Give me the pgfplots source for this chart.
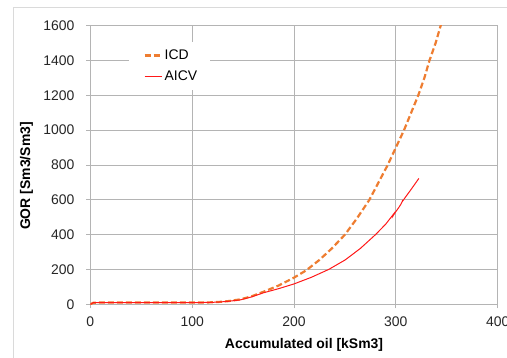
\documentclass[border=0pt]{standalone}
\usepackage{fontspec}
\setmainfont{Liberation Sans}
\usepackage{pgfplots}
\pgfplotsset{compat=1.18}
\definecolor{icd}{RGB}{238,125,49}
\definecolor{aicv}{RGB}{255,25,25}
\definecolor{gridc}{RGB}{180,180,180}
\definecolor{framec}{RGB}{218,218,218}
\begin{document}
\fontsize{14}{16}\selectfont
\begin{tikzpicture}
\path[use as bounding box] (0bp,0bp) rectangle (507bp,-358bp);
\draw[framec, line width=1bp] (13bp,-7bp) rectangle (540bp,-390bp);
\begin{axis}[
  at={(90.3bp,-304.3bp)}, anchor=south west,
  scale only axis, width=407.4bp, height=278.6bp,
  xmin=0, xmax=400, ymin=0, ymax=1600,
  xtick={0,100,...,400}, ytick={0,200,...,1600},
  grid=major, grid style={gridc, line width=1bp},
  axis line style={gridc, line width=1bp},
  tick style={gridc, line width=1bp},
  tick align=outside, major tick length=4bp,
  xtick pos=bottom, ytick pos=left,
  scaled ticks=false,
  /pgf/number format/assume math mode=true,
  /pgf/number format/set thousands separator={},
  ticklabel style={font=\fontsize{14}{16}\selectfont, text=black!85},
  xticklabel style={yshift=-4bp},
  yticklabel style={xshift=-7bp},
  xlabel={Accumulated oil [kSm3]},
  ylabel={GOR [Sm3/Sm3]},
  label style={font=\fontsize{14}{16}\selectfont\bfseries},
  xlabel style={at={(axis description cs:0.5246,-0.1461)}, anchor=center},
  ylabel style={at={(axis description cs:-0.1566,0.4605)}, anchor=center},
  legend style={at={(axis description cs:0.0957,0.9426)}, anchor=north west,
    draw=none, fill=white, inner xsep=11bp, inner ysep=5.7bp, row sep=5.3bp,
    font=\fontsize{14}{16}\selectfont},
  legend cell align=left,
  legend image code/.code={\path (-3bp,0bp); \draw[#1] (0bp,0bp) -- (17bp,0bp);},
]
\addplot[icd, line width=2.2bp, dash pattern=on 6bp off 3bp] coordinates {
(0,0) (3,9) (10,10) (50,10) (100,10) (115,10.5) (125,13) (135,18) (147,28)
(158,45) (170,72) (185,108) (200,153) (212,195) (225,255) (237,320) (250,400)
(262,495) (274,600) (283,700) (292,800) (300,900) (308,1000) (315,1100)
(322,1200) (328,1300) (333,1400) (339,1500) (344,1600) (346,1640)
};
\addlegendentry{ICD}
\addplot[aicv, line width=1bp] coordinates {
(0,0) (3,9) (10,10) (50,10) (100,10) (115,10.5) (125,12.5) (135,17) (147,25)
(158,42) (170,66) (185,90) (200,117) (217,155) (234,200) (250,254) (265,320)
(280,400) (290,460) (296,505) (298,520) (297.5,510) (299.5,528) (303,557)
(305,575) (307,600) (306.6,592) (309,612) (315,660) (322.6,723)
};
\addlegendentry{AICV}
\end{axis}
\end{tikzpicture}
\end{document}
